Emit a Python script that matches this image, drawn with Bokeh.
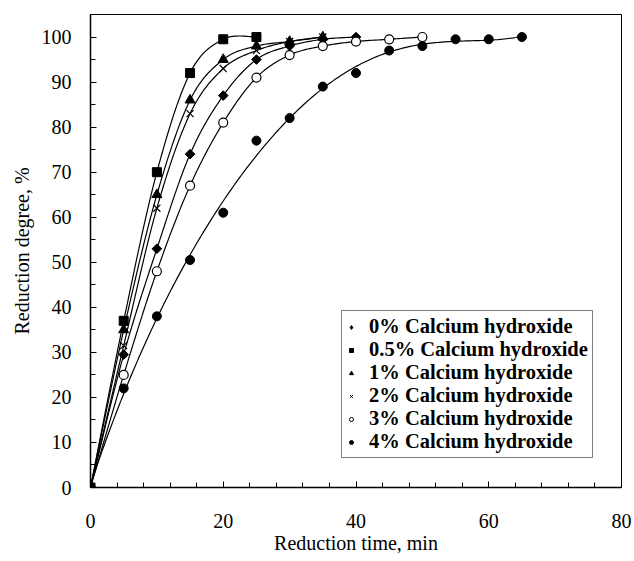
import numpy as np
from bokeh.plotting import figure
from bokeh.models import Range1d, Legend, LegendItem, FixedTicker
from bokeh.embed import file_html
from bokeh.resources import INLINE

# ---- data ----
t0 = [0, 5, 10, 15, 20, 25, 30, 35, 40]
r0 = [0, 29.5, 53, 74, 87, 95, 98, 99.5, 100]

t05 = [0, 5, 10, 15, 20, 25]
r05 = [0, 37, 70, 92, 99.5, 100]

t1 = [0, 5, 10, 15, 20, 25, 30, 35]
r1 = [0, 35, 65, 86, 95, 98, 99, 100]

t2 = [0, 5, 10, 15, 20, 25, 30, 35]
r2 = [0, 31.5, 62, 83, 93, 97, 99, 100]

t3 = [0, 5, 10, 15, 20, 25, 30, 35, 40, 45, 50]
r3 = [0, 25, 48, 67, 81, 91, 96, 98, 99, 99.5, 100]

t4 = [0, 5, 10, 15, 20, 25, 30, 35, 40, 45, 50, 55, 60, 65]
r4 = [0, 22, 38, 50.5, 61, 77, 82, 89, 92, 97, 98, 99.5, 99.5, 100]

labels = ["0% Calcium hydroxide", "0.5% Calcium hydroxide", "1% Calcium hydroxide",
          "2% Calcium hydroxide", "3% Calcium hydroxide", "4% Calcium hydroxide"]

x_ticks = [0, 20, 40, 60, 80]
y_ticks = [0, 10, 20, 30, 40, 50, 60, 70, 80, 90, 100]


def catmull(xs, ys, n=20):
    xs = np.asarray(xs, float)
    ys = np.asarray(ys, float)
    P = np.column_stack([xs, ys])
    P = np.vstack([P[0], P, P[-1]])
    out = []
    for i in range(1, len(P) - 2):
        p0, p1, p2, p3 = P[i - 1], P[i], P[i + 1], P[i + 2]
        c1 = p1 + (p2 - p0) / 6.0
        c2 = p2 - (p3 - p1) / 6.0
        s = np.linspace(0, 1, n, endpoint=(i == len(P) - 3))
        for u in s:
            b = ((1 - u) ** 3) * p1 + 3 * ((1 - u) ** 2) * u * c1 + 3 * (1 - u) * u * u * c2 + (u ** 3) * p2
            out.append(b)
    out = np.array(out)
    return out[:, 0], out[:, 1]


FONT = "Liberation Serif"

p = figure(width=634, height=561, output_backend="svg", toolbar_location=None,
           x_range=Range1d(0, 80), y_range=Range1d(0, 105),
           min_border_left=90, min_border_right=13, min_border_top=14, min_border_bottom=74)
p.grid.visible = False
p.outline_line_color = "black"
p.outline_line_width = 1
p.background_fill_color = "white"
p.border_fill_color = "white"

p.xaxis.ticker = FixedTicker(ticks=x_ticks, minor_ticks=list(range(0, 81, 4)))
p.yaxis.ticker = FixedTicker(ticks=y_ticks, minor_ticks=list(range(0, 106, 5)))
for ax in (p.xaxis, p.yaxis):
    ax.major_tick_in = 6
    ax.major_tick_out = 0
    ax.minor_tick_in = 5
    ax.minor_tick_out = 0
    ax.axis_line_color = "black"
    ax.axis_line_width = 1.5
    ax.major_tick_line_color = "black"
    ax.minor_tick_line_color = "black"
    ax.major_label_text_font = FONT
    ax.major_label_text_font_size = "20px"
    ax.major_label_text_color = "black"
    ax.axis_label_text_font = FONT
    ax.axis_label_text_font_size = "20px"
    ax.axis_label_text_font_style = "normal"
    ax.axis_label_text_color = "black"

p.xaxis.axis_label = "Reduction time, min"
p.yaxis.axis_label = "Reduction degree, %"
p.xaxis.major_label_standoff = 26
p.yaxis.major_label_standoff = 19
p.xaxis.axis_label_standoff = 1
p.yaxis.axis_label_standoff = 6

series = [(t0, r0, "diamond"), (t05, r05, "square"), (t1, r1, "triangle"),
          (t2, r2, "x"), (t3, r3, "circle_open"), (t4, r4, "circle")]
sizes = {"diamond": 6.8, "square": 9, "triangle": 10, "x": 10, "circle_open": 9, "circle": 9}
lsizes = {"diamond": 9, "square": 6, "triangle": 7, "x": 7, "circle_open": 6.5, "circle": 7}

items = []
for i, (tx, ry, mk) in enumerate(series):
    if i == 5:
        coef = np.polyfit(tx, ry, 5)
        xs = np.linspace(0, tx[-1], 200)
        ys = np.polyval(coef, xs)
    else:
        xs, ys = catmull(tx, ry)
    p.line(xs, ys, line_color="black", line_width=1.2)
    if mk == "circle_open":
        p.scatter(tx, ry, marker="circle", size=sizes[mk], fill_color="white",
                  line_color="black", line_width=1.2)
        lr = p.scatter([np.nan], [np.nan], marker="circle", size=lsizes[mk], fill_color="white",
                       line_color="black", line_width=1)
    elif mk == "x":
        p.scatter(tx, ry, marker="x", size=sizes[mk], line_color="black", line_width=1.2)
        lr = p.scatter([np.nan], [np.nan], marker="x", size=lsizes[mk], line_color="black", line_width=1)
    elif mk == "diamond":
        p.scatter(tx, ry, marker="square", angle=np.pi / 4, size=sizes[mk],
                  fill_color="black", line_color="black")
        lr = p.scatter([np.nan], [np.nan], marker="diamond", size=lsizes[mk],
                       fill_color="black", line_color="black")
    else:
        p.scatter(tx, ry, marker=mk, size=sizes[mk], fill_color="black", line_color="black")
        lr = p.scatter([np.nan], [np.nan], marker=mk, size=lsizes[mk], fill_color="black", line_color="black")
    items.append(LegendItem(label=labels[i], renderers=[lr]))

legend = Legend(items=items, location=(251, 29))
legend.label_text_font = FONT
legend.label_text_font_size = "20.5px"
legend.label_text_font_style = "bold"
legend.label_text_color = "black"
legend.border_line_color = "black"
legend.border_line_width = 1
legend.background_fill_alpha = 1
legend.glyph_width = 10
legend.glyph_height = 20
legend.label_standoff = 13
legend.label_height = 20
legend.spacing = 0
legend.padding = 4
legend.margin = 0
p.add_layout(legend)

open("out.html", "w").write(file_html(p, INLINE))
